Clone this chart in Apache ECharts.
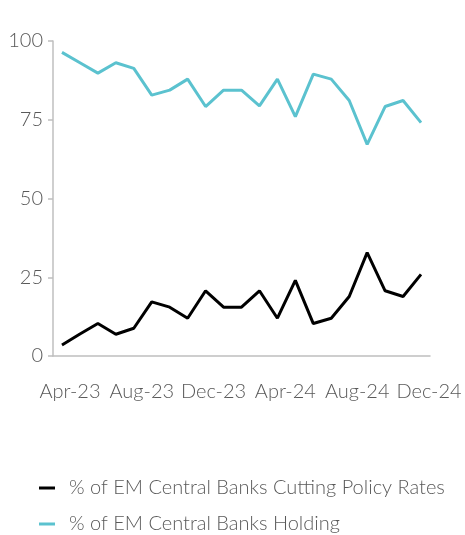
<!DOCTYPE html>
<html>
<head>
<meta charset="utf-8">
<script src="https://cdn.jsdelivr.net/npm/echarts@6/dist/echarts.min.js"></script>
<style>html,body{margin:0;padding:0;background:#fff;}#c{width:465px;height:535px;}</style>
</head>
<body>
<div id="c"></div>
<script>
var months = ['Apr-23','May-23','Jun-23','Jul-23','Aug-23','Sep-23','Oct-23','Nov-23','Dec-23','Jan-24','Feb-24','Mar-24','Apr-24','May-24','Jun-24','Jul-24','Aug-24','Sep-24','Oct-24','Nov-24','Dec-24'];
var cutting = [3.5,7.0,10.3,6.9,8.8,17.2,15.5,12.0,20.7,15.5,15.5,20.7,12.0,24.0,10.3,12.0,18.9,32.8,20.7,18.9,25.9];
var holding = [96.4,93.1,89.8,93.1,91.3,82.8,84.4,87.9,79.2,84.4,84.4,79.4,87.9,76.0,89.5,87.9,81.1,67.2,79.2,81.1,74.1];
var yTicks = [0,25,50,75,100];

var font = 'Lato';
var chart = echarts.init(document.getElementById('c'));
chart.setOption({
  animation: false,
  grid: {left: 53, right: 35, top: 41, bottom: 179},
  xAxis: {
    type: 'category',
    data: months,
    boundaryGap: true,
    axisLine: {lineStyle: {color: '#bfbfbf', width: 1.5}},
    axisTick: {show: false},
    axisLabel: {interval: 3, color: '#595959', fontFamily: font, fontWeight: 300, fontSize: 20, margin: 26, padding: [0,0,0,16]}
  },
  yAxis: {
    type: 'value',
    min: yTicks[0], max: yTicks[yTicks.length-1], interval: 25,
    splitLine: {show: false},
    axisLine: {show: true, lineStyle: {color: '#bfbfbf', width: 1.5}},
    axisTick: {show: true, length: 5, lineStyle: {color: '#bfbfbf', width: 1.5}},
    axisLabel: {color: '#595959', fontFamily: font, fontWeight: 300, fontSize: 20, margin: 10}
  },
  legend: {
    orient: 'vertical',
    left: 34, top: 473, height: 200,
    itemWidth: 16, itemHeight: 3, itemGap: 16,
    icon: 'rect',
    textStyle: {color: '#595959', fontFamily: font, fontWeight: 300, fontSize: 20, padding: [0,0,0,9]},
    data: ['% of EM Central Banks Cutting Policy Rates', '% of EM Central Banks Holding']
  },
  series: [
    {name: '% of EM Central Banks Cutting Policy Rates', type: 'line', data: cutting, symbol: 'none', color: '#000000', lineStyle: {width: 3, color: '#000000'}},
    {name: '% of EM Central Banks Holding', type: 'line', data: holding, symbol: 'none', color: '#5bc2cf', lineStyle: {width: 3, color: '#5bc2cf'}}
  ]
});
</script>
</body>
</html>
